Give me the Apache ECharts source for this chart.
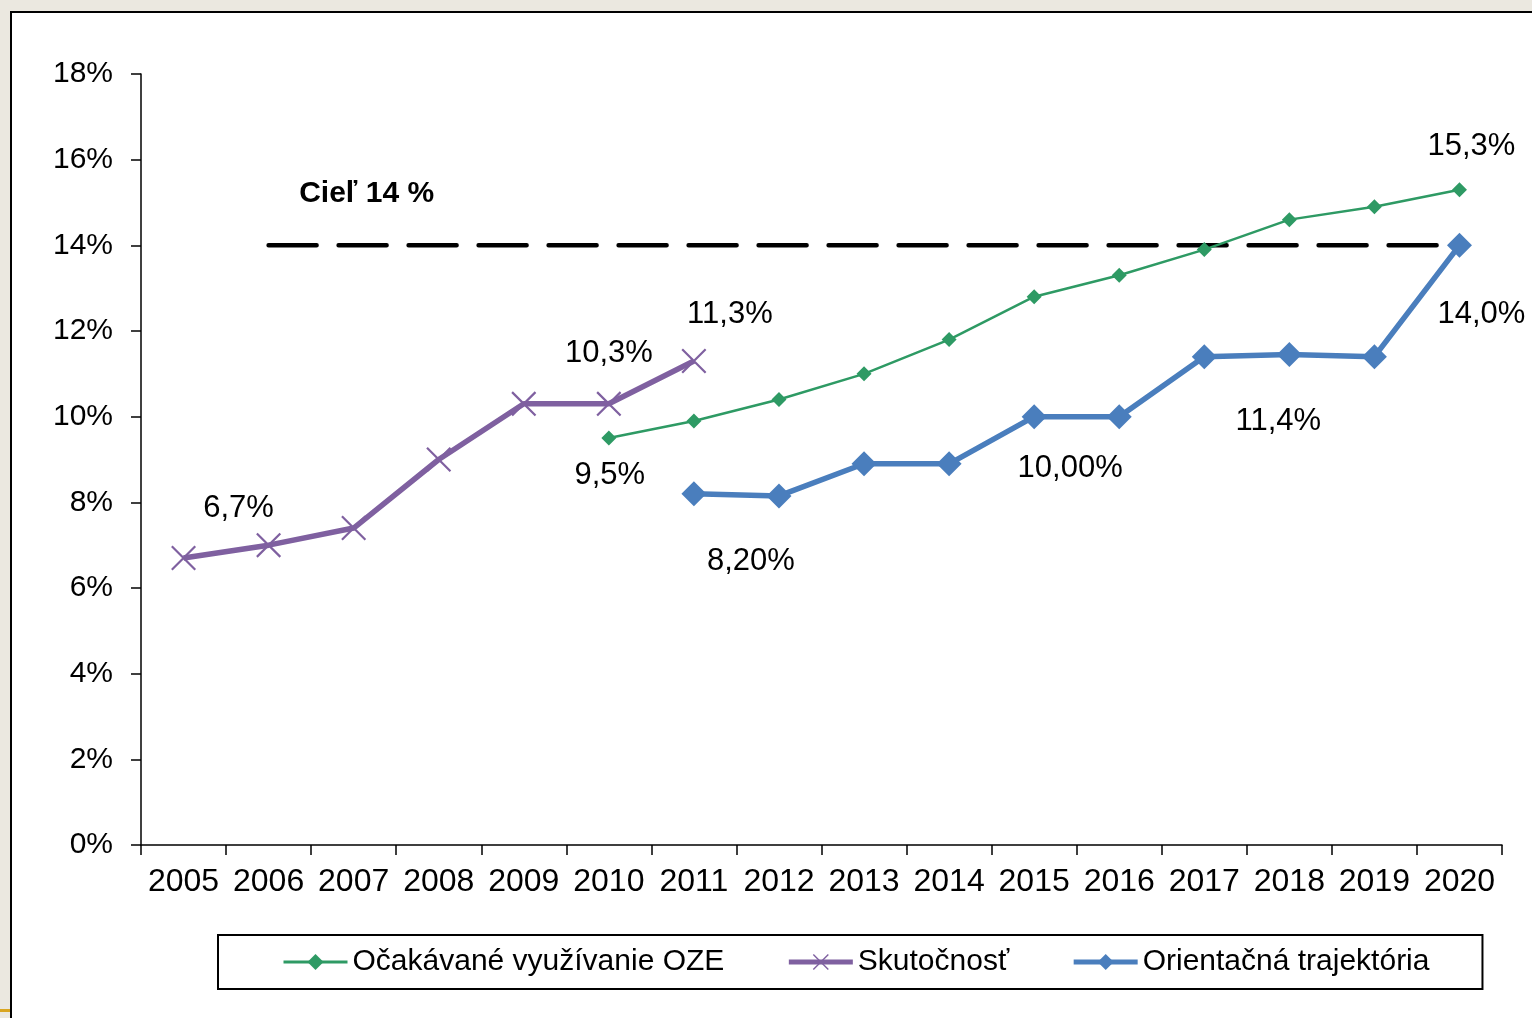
<!DOCTYPE html>
<html>
<head>
<meta charset="utf-8">
<script src="https://cdn.jsdelivr.net/npm/echarts@6/dist/echarts.min.js"></script>
<style>
html,body{margin:0;padding:0;background:#ebe8e0;}
#chart{width:1532px;height:1018px;}
</style>
</head>
<body>
<div id="chart"></div>
<script>
// ---- data ----
var years = ['2005','2006','2007','2008','2009','2010','2011','2012','2013','2014','2015','2016','2017','2018','2019','2020'];
var ocakavane   = [null, null, null, null, null, 9.5, 9.9, 10.4, 11.0, 11.8, 12.8, 13.3, 13.9, 14.6, 14.9, 15.3];
var skutocnost  = [6.7, 7.0, 7.4, 9.0, 10.3, 10.3, 11.3, null, null, null, null, null, null, null, null, null];
var trajektoria = [null, null, null, null, null, null, 8.2, 8.15, 8.9, 8.9, 10.0, 10.0, 11.4, 11.45, 11.4, 14.0];
var ciel        = [null, 14, 14, 14, 14, 14, 14, 14, 14, 14, 14, 14, 14, 14, 14, 14];
var yTicks = ['0%','2%','4%','6%','8%','10%','12%','14%','16%','18%'];

// label texts (as printed on the chart)
var ocakavaneLabels   = [null, null, null, null, null, '9,5%', null, null, null, null, null, null, null, null, null, '15,3%'];
var skutocnostLabels  = ['6,7%', null, null, null, null, '10,3%', '11,3%', null, null, null, null, null, null, null, null, null];
var trajektoriaLabels = [null, null, null, null, null, null, '8,20%', null, null, null, '10,00%', null, null, '11,4%', null, '14,0%'];
var cielLabels        = [null, null, 'Cieľ 14 %', null, null, null, null, null, null, null, null, null, null, null, null, null];

var seriesNames = ['Očakávané využívanie OZE', 'Skutočnosť', 'Orientačná trajektória'];

// ---- label placement (styling) ----
var offOcak = {5:[1,37], 15:[12,-43]};
var offSkut = {0:[55,-50], 5:[0,-50], 6:[36,-47]};
var offTraj = {6:[57,68], 10:[36,52], 13:[-11,67], 15:[22,69]};
var offCiel = {2:[13,-52]};

var FONT = '"Liberation Sans", Arial, sans-serif';

function build(values, labels, offs, extra) {
  return values.map(function (v, i) {
    var item = {value: v};
    if (labels[i] != null) {
      var lab = {
        show: true, position: 'inside', offset: offs[i],
        formatter: labels[i], color: '#000', fontSize: 31, fontFamily: FONT
      };
      if (extra) for (var k in extra) lab[k] = extra[k];
      item.label = lab;
    }
    return item;
  });
}

var xSym = 'path://M0,1.5L1.5,0L24,22.5L22.5,24Z M22.5,0L24,1.5L1.5,24L0,22.5Z';

var chart = echarts.init(document.getElementById('chart'), null, {renderer: 'canvas'});
chart.setOption({
  animation: false,
  backgroundColor: '#ebe8e0',
  textStyle: {fontFamily: FONT},
  graphic: [
    {type: 'rect', z: -10, silent: true, shape: {x: 11, y: 12, width: 1600, height: 1100},
     style: {fill: '#ffffff', stroke: '#000', lineWidth: 2}},
    {type: 'rect', z: -10, silent: true, shape: {x: 0, y: 1009, width: 10, height: 3},
     style: {fill: '#d9a520'}}
  ],
  grid: {left: 141, right: 30, top: 74, bottom: 173, containLabel: false},
  legend: {
    left: 218, top: 935,
    padding: [11, 53, 11, 64],
    borderColor: '#000', borderWidth: 2,
    itemWidth: 64, itemHeight: 20, itemGap: 62,
    data: [
      {name: seriesNames[0], itemStyle: {color: '#2e9a64'}, lineStyle: {width: 3}},
      {name: seriesNames[1], itemStyle: {color: '#7f60a0'}, lineStyle: {width: 5}},
      {name: seriesNames[2], itemStyle: {color: '#4a7ebd'}, lineStyle: {width: 5}}
    ],
    textStyle: {fontSize: 30, color: '#000', fontFamily: FONT, lineHeight: 32}
  },
  xAxis: {
    type: 'category', data: years, boundaryGap: true,
    axisLine: {lineStyle: {color: '#000', width: 1.5}},
    axisTick: {show: true, length: 10, alignWithLabel: false, lineStyle: {color: '#000', width: 1.5}},
    axisLabel: {color: '#000', fontSize: 32, margin: 21, interval: 0, fontFamily: FONT},
    splitLine: {show: false}
  },
  yAxis: {
    type: 'value', min: 0, max: 18, interval: 2,
    axisLine: {show: true, lineStyle: {color: '#000', width: 1.5}},
    axisTick: {show: true, length: 10, lineStyle: {color: '#000', width: 1.5}},
    axisLabel: {color: '#000', fontSize: 30, margin: 28, fontFamily: FONT,
      formatter: function (v) { return yTicks[Math.round(v / 2)]; }},
    splitLine: {show: false}
  },
  series: [
    {
      name: 'Cieľ', type: 'line', data: build(ciel, cielLabels, offCiel, {fontWeight: 'bold', fontSize: 30}),
      symbol: 'circle', symbolSize: 1, showSymbol: true, z: 1,
      lineStyle: {color: '#000', width: 4.5, type: [48, 22], cap: 'round'},
      itemStyle: {color: 'rgba(0,0,0,0)'}
    },
    {
      name: seriesNames[0], type: 'line', data: build(ocakavane, ocakavaneLabels, offOcak),
      symbol: 'diamond', symbolSize: 15, z: 3,
      lineStyle: {color: '#2e9a64', width: 2.5},
      itemStyle: {color: '#2e9a64'}
    },
    {
      name: seriesNames[1], type: 'line', data: build(skutocnost, skutocnostLabels, offSkut),
      symbol: xSym, symbolSize: 25, z: 3,
      lineStyle: {color: '#7f60a0', width: 5.5},
      itemStyle: {color: '#7f60a0'}
    },
    {
      name: seriesNames[2], type: 'line', data: build(trajektoria, trajektoriaLabels, offTraj),
      symbol: 'diamond', symbolSize: 25, z: 3,
      lineStyle: {color: '#4a7ebd', width: 5.5},
      itemStyle: {color: '#4a7ebd'}
    }
  ]
});
</script>
</body>
</html>
